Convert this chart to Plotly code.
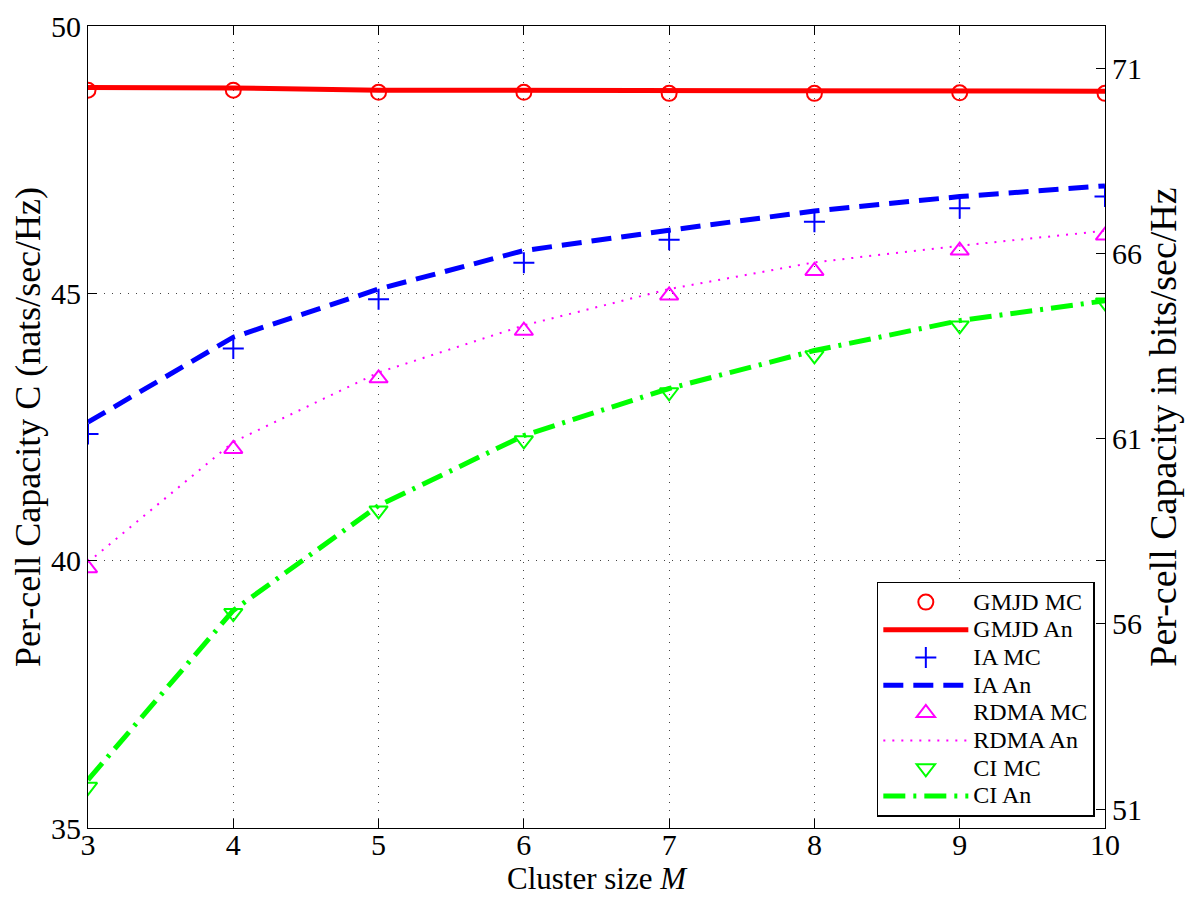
import numpy as np
import plotly.graph_objects as go

LN2 = np.log(2.0)

# Cluster size
M = [3, 4, 5, 6, 7, 8, 9, 10]

# Per-cell capacity (nats/sec/Hz)
gmjd_mc = [48.80, 48.80, 48.76, 48.76, 48.74, 48.74, 48.75, 48.74]
gmjd_an = [48.85, 48.84, 48.80, 48.80, 48.80, 48.79, 48.80, 48.78]
ia_mc = [42.37, 43.97, 44.89, 45.57, 46.00, 46.34, 46.59, 46.81]
ia_an = [42.59, 44.18, 45.08, 45.80, 46.18, 46.54, 46.81, 47.01]
rdma_mc = [39.86, 42.09, 43.41, 44.30, 44.96, 45.42, 45.80, 46.08]
rdma_an = [39.97, 42.22, 43.52, 44.40, 45.08, 45.58, 45.89, 46.17]
ci_mc = [35.77, 39.02, 40.94, 42.25, 43.15, 43.84, 44.40, 44.83]
ci_an = [35.90, 39.07, 41.03, 42.34, 43.22, 43.93, 44.49, 44.86]

left_ticks = [35, 40, 45, 50]
right_ticks = [51, 56, 61, 66, 71]
y_range = [35, 50]

FONT = "Liberation Serif"
LEG_TXT = 24

def leg(name):
    return f'<span style="font-size:{LEG_TXT}px">{name}</span>'

fig = go.Figure()

def mc(y, name, color, symbol, size=15):
    fig.add_trace(go.Scatter(
        x=M, y=y, name=leg(name), mode="markers",
        marker=dict(symbol=symbol, size=size, color=color,
                    line=dict(color=color, width=2)),
    ))

def an(y, name, color, width, dash):
    fig.add_trace(go.Scatter(
        x=M, y=y, name=leg(name), mode="lines",
        line=dict(color=color, width=width, dash=dash),
    ))

mc(gmjd_mc, "GMJD MC", "#ff0000", "circle-open", 15)
an(gmjd_an, "GMJD An", "#ff0000", 5, "solid")
mc(ia_mc, "IA MC", "#0000ff", "cross-thin-open", 15)
an(ia_an, "IA An", "#0000ff", 5, "20px,10px")
mc(rdma_mc, "RDMA MC", "#ff00ff", "triangle-up-open", 16)
an(rdma_an, "RDMA An", "#ff00ff", 2, "2px,7px")
mc(ci_mc, "CI MC", "#00ff00", "triangle-down-open", 16)
an(ci_an, "CI An", "#00ff00", 5, "22px,8px,3px,8px")

# dummy trace to carry the right-hand axis (bits/sec/Hz)
fig.add_trace(go.Scatter(
    x=M, y=[v / LN2 for v in gmjd_an], yaxis="y2", mode="lines",
    line=dict(width=0, color="rgba(0,0,0,0)"), showlegend=False,
    hoverinfo="skip",
))

common = dict(
    ticks="inside", ticklen=9, tickcolor="black",
    zeroline=False, automargin=False,
    tickfont=dict(family=FONT, size=30, color="black"),
)

# page body has an 8px default margin, so the figure is sized to fit the window
fig.update_layout(
    template="none",
    width=1192, height=894,
    margin=dict(l=80, r=95, t=18, b=74),
    paper_bgcolor="white", plot_bgcolor="white",
    font=dict(family=FONT, color="black", size=26),
    showlegend=True,
    legend=dict(
        x=0.990, y=0.014, xanchor="right", yanchor="bottom",
        bgcolor="white", bordercolor="black", borderwidth=1.5,
        font=dict(family=FONT, size=19, color="black"),
        itemwidth=85, tracegroupgap=0,
    ),
    xaxis=dict(
        range=[3, 10], tickvals=M, **common,
        ticklabelstandoff=-10,
        linecolor="black", linewidth=1.2, mirror="ticks", showline=True,
        showgrid=True, gridcolor="#444444", griddash="1px,7px", gridwidth=1,
        title=dict(text="Cluster size <i>M</i>", font=dict(family=FONT, size=31), standoff=0),
    ),
    yaxis=dict(
        range=y_range, tickvals=left_ticks, **common,
        linecolor="black", linewidth=1.2, mirror="ticks", showline=True,
        showgrid=True, gridcolor="#444444", griddash="1px,7px", gridwidth=1,
        title=dict(text="Per-cell Capacity C (nats/sec/Hz)", font=dict(family=FONT, size=36), standoff=14),
    ),
    yaxis2=dict(
        overlaying="y", side="right",
        range=[y_range[0] / LN2, y_range[1] / LN2], tickvals=right_ticks,
        **common,
        ticklabelstandoff=6,
        showline=False, showgrid=False,
        title=dict(text="Per-cell Capacity in bits/sec/Hz", font=dict(family=FONT, size=38), standoff=8),
    ),
)

fig.write_html("out.html")
